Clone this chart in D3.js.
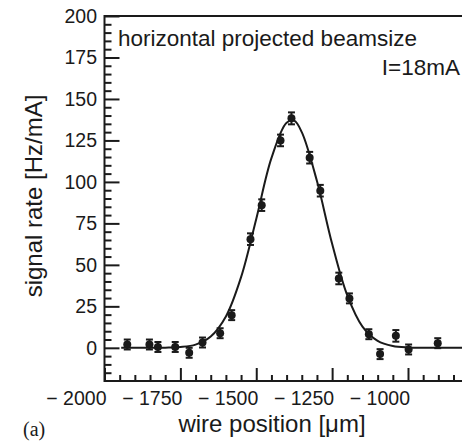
<!DOCTYPE html>
<html>
<head>
<meta charset="utf-8">
<script src="https://cdn.jsdelivr.net/npm/d3@7"></script>
<style>
  body { margin: 0; background: #fff; }
  text { font-family: "Liberation Sans", Arial, sans-serif; fill: #1a1a1a; }
</style>
</head>
<body>
<script>
// measured points (wire position in um, signal rate in Hz/mA)
var positions = [-1925, -1852, -1824, -1767, -1721, -1677, -1619, -1581, -1519, -1482, -1420,
  -1384, -1324, -1289, -1228, -1193, -1129, -1092, -1040, -998, -902];
var rates = [2, 2, 0.5, 0.5, -3, 3.2, 8.8, 19.7, 65.5, 86, 125,
  138.3, 114.6, 94.7, 41.8, 29.8, 8.2, -3.8, 7.2, -1, 2.8];
var errors = [3, 3, 3, 3, 3, 3, 3, 3, 3.5, 3.5, 3.5,
  3.6, 3.5, 3.5, 3.5, 3, 3, 3, 3.5, 3, 3];

// fitted curve
var fitX = [-1945, -1850, -1800, -1750, -1700, -1650, -1600, -1550, -1500, -1450, -1400, -1375,
  -1350, -1300, -1250, -1200, -1150, -1100, -1050, -1000, -950, -850, -750];
var fitY = [0, 0, 0.1, 0.45, 1.9, 6.8, 18.9, 42.6, 77.7, 114.3, 135.7, 136.9,
  130, 100.5, 62.7, 31.6, 12.8, 4.2, 1.1, 0.2, 0, 0, 0];

var xTicks = [-2000, -1750, -1500, -1250, -1000];
var yTicks = [0, 25, 50, 75, 100, 125, 150, 175, 200];

var W = 462, H = 446;
var svg = d3.select("body").append("svg").attr("width", W).attr("height", H);

// scales
var xScale = d3.scaleLinear().domain([-2000, -1000]).range([104.5, 408]);
var yScale = d3.scaleLinear().domain([-20, 200]).range([381, 16]);
var x0 = xScale.range()[0], yb = yScale(-20), yt = yScale(200);

// fit line
var line = d3.line()
  .x((d, i) => xScale(fitX[i]))
  .y((d, i) => yScale(fitY[i]))
  .curve(d3.curveCatmullRom);
svg.append("path")
  .datum(fitX)
  .attr("d", line)
  .attr("fill", "none")
  .attr("stroke", "#1a1a1a")
  .attr("stroke-width", 2);

// error bars
var pts = svg.append("g").selectAll("g").data(positions).enter().append("g");
pts.append("line")
  .attr("x1", (d) => xScale(d)).attr("x2", (d) => xScale(d))
  .attr("y1", (d, i) => yScale(rates[i] + errors[i]))
  .attr("y2", (d, i) => yScale(rates[i] - errors[i]))
  .attr("stroke", "#1a1a1a").attr("stroke-width", 2);
[1, -1].forEach(function (s) {
  pts.append("line")
    .attr("x1", (d) => xScale(d) - 3.5).attr("x2", (d) => xScale(d) + 3.5)
    .attr("y1", (d, i) => yScale(rates[i] + s * errors[i]))
    .attr("y2", (d, i) => yScale(rates[i] + s * errors[i]))
    .attr("stroke", "#1a1a1a").attr("stroke-width", 2);
});
pts.append("circle")
  .attr("cx", (d) => xScale(d))
  .attr("cy", (d, i) => yScale(rates[i]))
  .attr("r", 4)
  .attr("fill", "#1a1a1a");

// left axis, ticks inside
var yAxis = d3.axisRight(yScale).tickValues(yTicks).tickSize(15).tickFormat("");
var yMinor = d3.axisRight(yScale).tickValues(d3.range(-15, 200, 5).filter((v) => v % 25 != 0)).tickSize(7).tickFormat("");
[yAxis, yMinor].forEach(function (ax) {
  svg.append("g").attr("transform", "translate(" + x0 + ",0)").call(ax)
    .call((g) => g.select(".domain").remove())
    .selectAll("line").attr("stroke", "#1a1a1a").attr("stroke-width", 2);
});
svg.append("g").selectAll("text").data(yTicks).enter().append("text")
  .attr("x", 97).attr("y", (d) => yScale(d)).attr("dy", "0.36em")
  .attr("text-anchor", "end").attr("font-size", "19.5px")
  .text((d) => d);

// bottom axis, ticks inside
var xAxis = d3.axisTop(xScale).tickValues(xTicks).tickSize(13).tickFormat("");
var xMinor = d3.axisTop(xScale).tickValues(d3.range(-1950, -800, 50).filter((v) => v % 250 != 0)).tickSize(6).tickFormat("");
[xAxis, xMinor].forEach(function (ax) {
  svg.append("g").attr("transform", "translate(0," + yb + ")").call(ax)
    .call((g) => g.select(".domain").remove())
    .selectAll("line").attr("stroke", "#1a1a1a").attr("stroke-width", 2);
});
// labels sit a little left of their ticks, as in the original
svg.append("g").selectAll("text").data(xTicks).enter().append("text")
  .attr("x", (d) => xScale(d) + 2).attr("y", 405)
  .attr("text-anchor", "end").attr("font-size", "19.5px")
  .text((d) => "\u2212 " + Math.abs(d));

// frame
svg.append("path")
  .attr("d", "M" + (W + 5) + "," + yt + "H" + x0 + "V" + yb + "H" + (W + 5))
  .attr("fill", "none").attr("stroke", "#1a1a1a").attr("stroke-width", 2);

// labels
svg.append("text")
  .attr("transform", "translate(42,196) rotate(-90)")
  .attr("text-anchor", "middle").attr("font-size", "24px")
  .text("signal rate [Hz/mA]");
svg.append("text")
  .attr("x", 272).attr("y", 432)
  .attr("text-anchor", "middle").attr("font-size", "24px")
  .text("wire position [\u03bcm]");
svg.append("text")
  .attr("x", 118).attr("y", 46).attr("font-size", "22.5px")
  .text("horizontal projected beamsize");
svg.append("text")
  .attr("x", 460).attr("y", 75).attr("text-anchor", "end").attr("font-size", "22.5px")
  .text("I=18mA");
svg.append("text")
  .attr("x", 23).attr("y", 436)
  .style("font-family", "'Liberation Serif', 'Times New Roman', serif").attr("font-size", "20px")
  .text("(a)");
</script>
</body>
</html>
